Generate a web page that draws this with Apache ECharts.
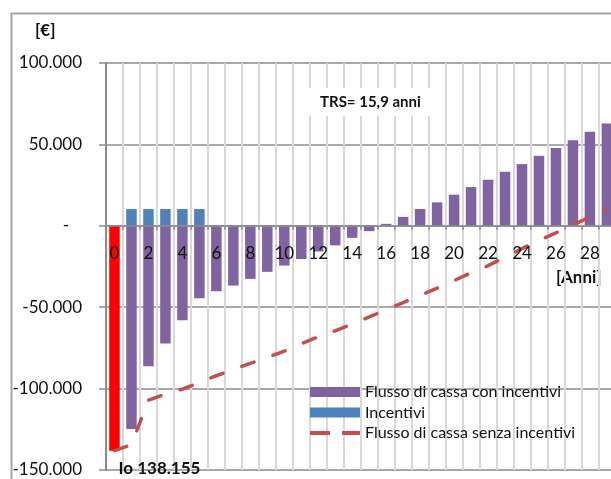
<!DOCTYPE html>
<html>
<head>
<meta charset="utf-8">
<script src="https://cdn.jsdelivr.net/npm/echarts@6/dist/echarts.min.js"></script>
<style>
  html, body { margin: 0; padding: 0; background: #ffffff; }
  #chart { width: 611px; height: 479px; }
</style>
</head>
<body>
<div id="chart"></div>
<script>
// ---- data ----
const years = ['0','1','2','3','4','5','6','7','8','9','10','11','12','13','14','15','16','17','18','19','20','21','22','23','24','25','26','27','28','29'];
const investment = [-138155, null, null, null, null, null, null, null, null, null, null, null, null, null, null, null, null, null, null, null, null, null, null, null, null, null, null, null, null, null];
const cashFlowWithIncentives = [null, -124800, -86300, -72300, -58000, -44500, -40200, -36700, -32600, -28300, -24400, -20400, -15800, -12000, -7400, -3300, 1200, 5500, 10300, 14400, 19100, 23800, 28300, 33200, 37900, 43000, 47800, 52500, 57800, 62900];
const incentives = [null, 10300, 10300, 10300, 10300, 10300, null, null, null, null, null, null, null, null, null, null, null, null, null, null, null, null, null, null, null, null, null, null, null, null];
const cashFlowWithoutIncentives = [-138155, -134500, -107100, -103400, -100300, -96300, -92100, -88300, -84500, -80800, -77000, -72500, -68200, -64500, -60300, -56000, -51600, -47200, -42700, -38300, -33600, -28900, -24500, -19300, -14000, -9000, -4300, 500, 5500, 10600];
const seriesNames = ['Flusso di cassa con incentivi', 'Incentivi', 'Flusso di cassa senza incentivi'];
const yMin = -150000, yMax = 100000, yStep = 50000;

function fmt(v) {
  const s = String(Math.round(Math.abs(v))).replace(/\B(?=(\d{3})+(?!\d))/g, '.');
  return (v < 0 ? '-' : '') + s;
}

const FONT = 'Lato, "Open Sans", sans-serif';
const chart = echarts.init(document.getElementById('chart'), null, { renderer: 'canvas' });
const catW = 16.98;
const gridTop = 63, gridHeight = 407;
// the category axis sits on the value 0 of the value axis
const zeroOffset = -gridHeight * (0 - yMin) / (yMax - yMin);

chart.setOption({
  backgroundColor: '#ffffff',
  animation: false,
  grid: { left: 106, top: gridTop, width: catW * years.length, height: gridHeight, containLabel: false, outerBoundsMode: 'none' },
  xAxis: [
    { // vertical gridlines, behind the bars
      type: 'category', data: years, position: 'top',
      axisLine: { show: false }, axisTick: { show: false }, axisLabel: { show: false },
      splitLine: { show: true, interval: 0, lineStyle: { color: '#d9d9d9', width: 2 } }
    },
    { // axis line, ticks and year labels at value 0, above the bars
      type: 'category', data: years, position: 'bottom', offset: zeroOffset, z: 10,
      axisLine: { onZero: false, lineStyle: { color: '#8c8c8c', width: 1.5 } },
      axisTick: { show: true, length: 4, interval: 0, lineStyle: { color: '#8c8c8c', width: 1.5 } },
      axisLabel: { interval: 1, margin: 19, color: '#111', fontFamily: FONT, fontSize: 17 },
      splitLine: { show: false }
    }
  ],
  yAxis: {
    type: 'value',
    min: yMin, max: yMax, interval: yStep,
    axisLine: { show: true, onZero: false, lineStyle: { color: '#8c8c8c', width: 2 } },
    axisTick: { show: true, length: 7, inside: false, lineStyle: { color: '#8c8c8c', width: 1.5 } },
    axisLabel: {
      margin: 24, color: '#111', fontFamily: FONT, fontSize: 17,
      formatter: v => v === 0 ? '-   ' : fmt(v)
    },
    splitLine: { show: true, lineStyle: { color: '#8c8c8c', width: 1.5 } }
  },
  legend: {
    orient: 'vertical',
    left: 308, top: 384,
    itemWidth: 50, itemHeight: 10, itemGap: 4.5,
    padding: 0,
    textStyle: { fontFamily: FONT, fontSize: 16, color: '#111' },
    data: [
      { name: seriesNames[0], icon: 'rect' },
      { name: seriesNames[1], icon: 'rect' },
      { name: seriesNames[2], itemStyle: { opacity: 0 }, lineStyle: { type: [20, 12], width: 4, cap: 'butt' } }
    ]
  },
  graphic: [
    { type: 'rect', left: 9, top: 11, z: -1, silent: true,
      shape: { x: 0, y: 0, width: 700, height: 600 },
      style: { fill: 'none', stroke: '#a6a6a6', lineWidth: 2 } },
    { type: 'text', left: 35, top: 22,
      style: { text: '[€]', font: 'bold 17px ' + FONT, fill: '#111' } },
    { type: 'text', left: 556, top: 269,
      style: { text: '[Anni]', font: 'bold 17px ' + FONT, fill: '#111' } },
    { type: 'text', left: 305, top: 88, z: 5,
      style: { text: 'TRS= 15,9 anni', font: 'bold 15px ' + FONT, fill: '#111',
               backgroundColor: '#ffffff', padding: [7, 15, 6, 15] } }
  ],
  series: [
    {
      name: 'Io', type: 'bar', data: investment, barWidth: 10.5, barGap: '-100%', xAxisIndex: 0,
      itemStyle: { color: '#ff0000' },
      label: {
        show: true, position: 'bottom', distance: 9, offset: [45, 0],
        fontFamily: FONT, fontSize: 17, fontWeight: 'bold', color: '#111',
        formatter: p => 'Io ' + fmt(-p.value)
      }
    },
    {
      name: seriesNames[0], type: 'bar', data: cashFlowWithIncentives, barWidth: 10.5, barGap: '-100%', xAxisIndex: 0,
      itemStyle: { color: '#8064A2' }
    },
    {
      name: seriesNames[1], type: 'bar', data: incentives, barWidth: 10.5, barGap: '-100%', xAxisIndex: 0,
      itemStyle: { color: '#4F81BD' }
    },
    {
      name: seriesNames[2], type: 'line', data: cashFlowWithoutIncentives, xAxisIndex: 0,
      symbol: 'none', z: 4,
      lineStyle: { color: '#C0504D', width: 3.5, type: [13, 20], cap: 'round' },
      itemStyle: { color: '#C0504D' }
    }
  ]
});
</script>
</body>
</html>
